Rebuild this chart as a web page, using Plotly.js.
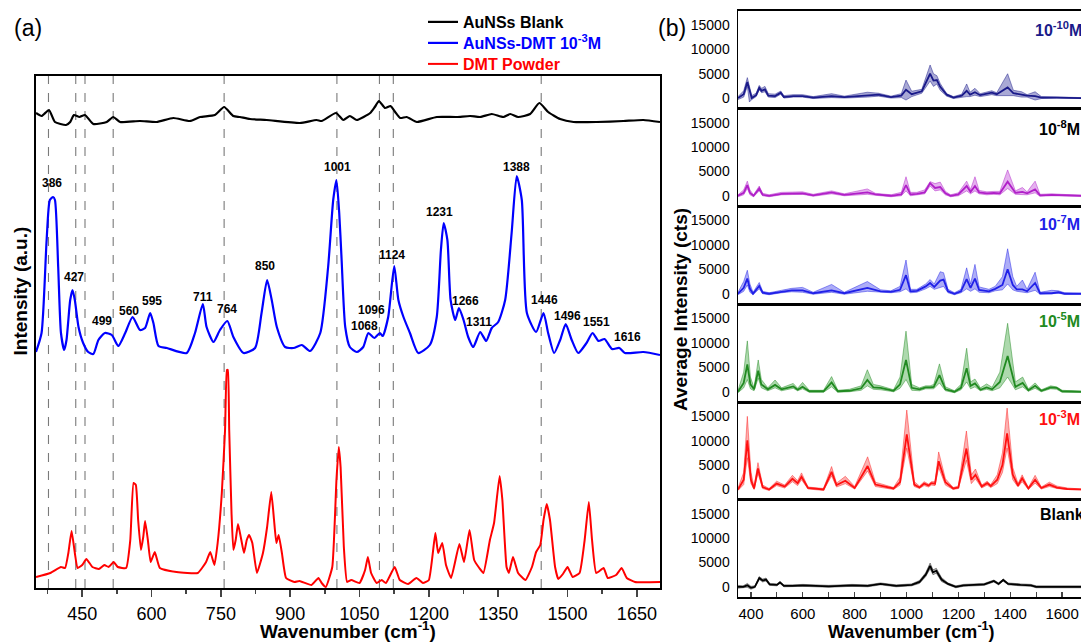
<!DOCTYPE html>
<html><head><meta charset="utf-8">
<script src="https://cdn.plot.ly/plotly-3.0.1.min.js"></script>
<style>html,body{margin:0;padding:0;background:#fff}#chart{width:1081px;height:643px}</style>
</head><body><div id="chart"></div>
<script>
// ---------- Panel (a) data (arbitrary units, stacked as in the figure) ----------
const blankA_w = [350,362,378,391,415,424,432,444,456,474,503,517,532,575,611,647,683,705,737,757,777,791,813,849,921,957,968,999,1015,1029,1044,1073,1083,1092,1105,1117,1127,1138,1152,1174,1217,1260,1289,1311,1336,1361,1376,1393,1419,1439,1458,1484,1513,1563,1621,1664,1700];
const blankA_i = [475,472,478,466,463,466,473,471,473,464,466,471,466,467,466,470,467,471,473,481,472,471,469,468,465,468,467,475,468,472,468,475,481,487,480,482,476,470,471,466,471,471,472,471,474,471,474,471,474,485,476,469,466,466,467,468,466];

const dmtA_w = [350,362,373,380,387,391,398,404,411,416,424,429,434,442,452,463,474,485,499,514,528,543,559,575,586,597,604,615,633,676,694,711,719,734,748,764,777,799,824,838,850,860,871,889,907,925,943,965,982,993,1000,1006,1011,1019,1029,1044,1058,1069,1082,1094,1100,1112,1125,1134,1145,1159,1177,1202,1217,1226,1232,1240,1247,1257,1265,1275,1285,1296,1311,1324,1336,1350,1365,1379,1390,1401,1412,1432,1448,1458,1471,1484,1496,1509,1523,1541,1554,1567,1580,1596,1612,1624,1664,1700];
const dmtA_i = [236,255,348,388,391,388,321,255,238,248,288,298,288,261,245,236,234,248,255,253,242,255,271,258,260,275,265,242,240,235,255,284,261,246,258,267,251,235,240,275,308,288,261,241,240,243,237,255,321,388,408,375,330,261,241,236,241,255,250,255,252,271,322,288,271,255,235,243,271,338,365,348,288,268,280,268,251,241,256,247,260,266,288,355,412,388,275,256,275,255,235,248,264,248,235,245,255,247,249,239,240,235,236,233];

const powA_w = [350,381,404,413,420,427,434,440,450,459,472,486,498,507,518,527,545,554,561,566,571,577,582,586,592,598,607,618,654,700,718,727,736,743,752,759,763,765,768,773,777,782,787,793,800,806,811,818,828,841,850,859,865,870,875,882,891,909,920,946,961,968,977,991,1000,1005,1009,1016,1023,1032,1050,1062,1068,1075,1087,1098,1107,1126,1137,1155,1173,1187,1200,1214,1220,1229,1237,1248,1266,1276,1288,1298,1309,1318,1332,1341,1353,1359,1368,1373,1382,1393,1409,1423,1432,1441,1448,1455,1462,1473,1480,1490,1500,1511,1526,1537,1546,1553,1562,1578,1587,1605,1617,1628,1646,1700];
const powA_i = [11,15,21,20,35,57,35,20,23,29,21,19,23,21,26,21,20,48,105,103,68,38,51,67,48,26,36,20,16,15,26,36,23,45,95,158,218,218,158,75,38,48,64,51,35,48,53,45,15,35,61,96,68,45,53,35,10,6,7,3,10,5,1,21,108,141,121,41,6,8,5,18,31,15,5,8,5,21,8,4,10,5,8,55,35,45,23,10,44,26,58,28,20,15,48,65,112,88,21,15,31,15,8,21,36,43,68,84,68,21,9,14,21,11,15,48,86,48,15,20,10,13,20,10,6,6];

const peakText = ['386','427','499','560','595','711','764','850','1001','1068','1096','1124','1231','1266','1311','1388','1446','1496','1551','1616'];
const peakLabelW = [384,432,493,551,602,711,763,846,1003,1060,1076,1121,1224,1280,1309,1390,1450,1500,1563,1630];
const peakLabelI = [405,311,267,277,287,291,279,322,421,262,278,333,376,287,266,421,288,272,266,251];

const dashW = [377,436,456,517,757,1001,1093,1123,1443];

const xTicksA = [450,600,750,900,1050,1200,1350,1500,1650];

// ---------- Panel (b) data (average intensity, cts) ----------
const m10_x = [350,372,386,394,403,420,432,441,454,467,493,515,527,563,599,640,711,760,849,892,940,980,998,1020,1059,1091,1104,1117,1130,1155,1181,1213,1232,1245,1264,1284,1329,1348,1390,1412,1444,1465,1496,1520,1580,1673];
const m10_mean = [0,800,3300,1500,0,600,2100,1500,1800,500,400,1100,200,400,400,100,400,200,600,700,200,500,1700,800,1400,5000,3600,3700,2300,700,100,500,1500,700,1200,600,1100,800,2200,1000,700,500,400,100,100,0];
const m10_up = [300,1500,4200,2500,500,1000,2600,2000,2400,900,800,1440,500,700,700,300,900,400,1200,1000,400,900,3700,1400,1800,6800,5000,4600,3000,900,300,800,2900,1200,2000,900,1500,1100,5000,1600,1300,700,1300,300,200,100];
const m10_lo = [-300,200,2400,-800,-300,300,1700,1100,1300,200,100,800,0,200,200,-100,100,0,200,400,0,100,-400,300,1000,3500,2400,2900,1600,400,-100,200,300,300,600,300,700,500,500,500,200,200,-400,-100,0,-100];

const m8_x = [350,372,386,396,410,432,445,470,518,557,599,640,711,760,849,880,940,980,998,1015,1040,1070,1091,1110,1130,1150,1170,1200,1232,1247,1264,1280,1310,1337,1360,1390,1420,1447,1465,1496,1515,1560,1673];
const m8_mean = [0,600,2200,600,0,1500,200,0,400,500,500,100,700,200,700,300,0,300,2200,300,400,700,2600,1600,1800,500,0,300,2000,800,2000,700,500,600,500,2900,600,800,500,1300,100,200,0];
const m8_up = [200,1200,3000,1200,200,2000,500,200,700,800,800,300,1000,400,1400,500,200,700,3900,700,700,1200,2900,2500,2800,900,200,600,3000,1300,3900,1100,800,900,900,5300,1000,1700,800,3000,300,400,100];
const m8_lo = [-200,200,1500,200,-200,1000,0,-200,200,200,300,-100,400,0,300,100,-200,0,1000,0,200,400,2000,1000,1200,200,-200,0,1000,400,1000,400,200,300,200,1500,300,300,200,600,-100,0,-100];

const m7_x = [350,372,386,396,408,432,445,470,518,557,599,640,711,760,849,900,940,975,998,1015,1040,1074,1091,1107,1130,1143,1160,1185,1210,1232,1247,1264,1280,1318,1342,1370,1390,1410,1425,1447,1465,1496,1515,1560,1586,1610,1673];
const m7_mean = [0,1200,3100,1000,0,1600,200,0,400,700,700,100,700,100,1200,500,400,800,3800,500,600,1500,2200,1400,2700,2900,500,0,500,3000,1200,3100,800,500,1000,1800,5000,1800,900,900,500,2200,100,100,300,0,0];
const m7_up = [300,2500,4800,2000,300,2300,500,200,700,1100,1300,300,1900,300,2500,800,600,1500,6900,900,900,2000,2900,2000,4500,4300,900,200,900,5300,2000,6000,1400,900,1500,3500,9200,3500,1500,2800,900,4400,300,700,600,200,100];
const m7_lo = [-200,500,1800,300,-200,1000,0,-200,200,400,300,-100,300,-100,500,300,200,400,1000,200,300,1000,1500,900,1200,1500,200,-200,200,1000,500,1000,300,200,600,800,2000,800,500,300,200,700,-100,0,100,-100,-100];

const m5_x = [350,372,386,398,412,428,440,465,493,518,563,580,599,625,680,711,735,780,825,849,872,900,950,975,998,1020,1050,1074,1091,1105,1127,1150,1185,1210,1232,1247,1264,1285,1309,1330,1360,1390,1420,1448,1470,1496,1520,1556,1579,1600,1673];
const m5_mean = [0,1800,5600,1500,500,4300,1500,500,1400,500,1100,400,1000,100,100,1900,100,200,700,2400,900,800,200,1500,6500,800,500,900,900,1000,3400,500,0,800,4800,1200,1700,400,900,500,2000,7300,1000,1800,300,1200,200,900,800,100,0];
const m5_up = [300,4000,10400,3000,800,6500,2500,800,2400,800,1700,700,1900,300,300,3100,300,500,1200,4500,1500,1200,400,3000,12400,1500,800,1200,1200,1500,5700,1000,200,1500,8900,2000,2600,800,1600,900,4000,14000,2000,3000,600,1800,400,1200,1000,300,100];
const m5_lo = [-200,800,2500,600,200,2800,800,200,800,200,700,200,600,-100,-100,1000,-100,0,300,1200,500,400,0,700,2500,300,200,600,600,600,1800,200,-200,400,2000,600,1000,200,500,200,800,3000,400,1000,100,700,0,600,500,-100,-100];

const m3_x = [350,372,386,400,412,427,445,470,499,530,560,580,595,620,680,711,730,764,800,850,880,920,950,975,1001,1030,1050,1068,1085,1096,1110,1124,1150,1180,1200,1231,1250,1266,1290,1311,1325,1350,1370,1388,1410,1430,1446,1470,1496,1520,1551,1580,1620,1673];
const m3_mean = [0,2000,10100,2000,200,4300,500,0,1200,600,2200,1300,2600,300,0,3600,900,1800,300,4800,1000,600,200,1500,11300,1000,400,1200,800,1300,1200,5800,1500,200,400,8400,2000,3000,600,1300,700,2000,5000,11500,3000,800,2300,200,2000,300,1000,400,100,0];
const m3_up = [300,3500,15000,3500,500,5500,900,200,1700,900,2900,1800,3400,500,200,4700,1300,2700,600,6700,1500,900,400,2500,16300,1600,700,1600,1100,1600,1600,7700,2200,400,700,12000,3000,4200,900,1700,1000,3000,7500,16700,4500,1200,3000,400,2900,500,1500,700,300,100];
const m3_lo = [-200,1000,6500,1200,0,3300,200,-200,800,300,1600,800,2000,100,-200,2800,500,1200,100,3800,600,300,0,900,8500,600,200,800,500,900,800,4500,900,0,200,6000,1200,2200,300,900,400,1200,3500,8500,2000,500,1600,0,1300,100,600,200,0,-100];

const bl_x = [350,370,386,400,415,432,445,458,472,500,512,527,560,600,700,790,850,900,960,1020,1050,1074,1091,1102,1115,1135,1160,1190,1220,1260,1300,1337,1355,1373,1392,1440,1480,1500,1673];
const bl_mean = [0,0,300,-200,0,1800,1300,1500,500,400,900,200,200,300,100,300,200,600,200,400,1000,2500,4300,3000,3300,1500,600,0,300,400,500,1200,600,1400,600,400,300,0,0];
const bl_up = [300,200,700,100,200,2100,1600,1800,700,600,1100,400,400,500,300,500,400,800,400,600,1300,2900,4900,3500,3800,1900,800,200,500,600,700,1400,800,1600,800,600,500,200,200];
const bl_lo = [-300,-200,-100,-500,-200,1500,1000,1200,300,200,700,0,0,100,-100,100,0,400,0,200,700,2100,3700,2500,2800,1100,400,-200,100,200,300,1000,400,1200,400,200,100,-200,-200];

const concLabels = ['10<sup>-10</sup>M','10<sup>-8</sup>M','10<sup>-7</sup>M','10<sup>-5</sup>M','10<sup>-3</sup>M','Blank'];
const yTicksB = [0,5000,10000,15000];

// ---------- Build ----------
const FONT = 'Liberation Sans, Arial, Helvetica, sans-serif';
const W = 1081, H = 643;
const px = v => v / W, py = v => 1 - v / H;

const traces = [];
traces.push({x: blankA_w, y: blankA_i, type:'scatter', mode:'lines', name:'<b>AuNSs Blank</b>', legend:'legend',
  line:{color:'#000000', width:2.2, shape:'spline', smoothing:0.5}, xaxis:'x', yaxis:'y', hoverinfo:'skip'});
traces.push({x: dmtA_w, y: dmtA_i, type:'scatter', mode:'lines', name:'<b><span style="color:#0000ff">AuNSs-DMT 10<sup>-3</sup>M</span></b>', legend:'legend2',
  line:{color:'#0000ff', width:2.2, shape:'spline', smoothing:0.6}, xaxis:'x', yaxis:'y', hoverinfo:'skip'});
traces.push({x: powA_w, y: powA_i, type:'scatter', mode:'lines', name:'<b><span style="color:#ff0000">DMT Powder</span></b>', legend:'legend3',
  line:{color:'#ff0000', width:2, shape:'spline', smoothing:0.4}, xaxis:'x', yaxis:'y', hoverinfo:'skip'});

const seriesB = [
  {x:m10_x, m:m10_mean, u:m10_up, l:m10_lo, line:'#1a1a8a', edge:'rgba(26,26,138,0.6)', fill:'rgba(40,40,150,0.40)', lab:'#1a1a8a', lx:1033, ly:29},
  {x:m8_x, m:m8_mean, u:m8_up, l:m8_lo, line:'#b020c8', edge:'rgba(176,32,200,0.6)', fill:'rgba(190,60,215,0.40)', lab:'#000000', lx:1037, ly:127.7},
  {x:m7_x, m:m7_mean, u:m7_up, l:m7_lo, line:'#2020e8', edge:'rgba(32,32,232,0.6)', fill:'rgba(50,50,235,0.40)', lab:'#2020e8', lx:1037, ly:223},
  {x:m5_x, m:m5_mean, u:m5_up, l:m5_lo, line:'#218a21', edge:'rgba(33,138,33,0.6)', fill:'rgba(50,160,50,0.40)', lab:'#218a21', lx:1037, ly:320},
  {x:m3_x, m:m3_mean, u:m3_up, l:m3_lo, line:'#ff1010', edge:'rgba(255,30,30,0.6)', fill:'rgba(245,60,60,0.40)', lab:'#ff1010', lx:1037, ly:418},
  {x:bl_x, m:bl_mean, u:bl_up, l:bl_lo, line:'#000000', edge:'rgba(0,0,0,0.5)', fill:'rgba(80,80,80,0.40)', lab:'#000000', lx:1038, ly:514}
];
const borders = [10.7, 108.3, 206, 304, 402, 499.7, 597];

const legBase = {x: px(423), xanchor:'left', yanchor:'top', bgcolor:'rgba(0,0,0,0)',
  font:{size:16, family:FONT, color:'#000'}, itemwidth:30, traceorder:'normal'};

const layout = {
  width: W, height: H, margin:{l:0,r:0,t:0,b:0}, autosize:false,
  paper_bgcolor:'#ffffff', plot_bgcolor:'rgba(0,0,0,0)',
  font:{family: FONT, color:'#000'},
  showlegend:true,
  legend: Object.assign({}, legBase, {y: py(5)}),
  legend2: Object.assign({}, legBase, {y: py(26)}),
  legend3: Object.assign({}, legBase, {y: py(47)}),
  xaxis:{domain:[px(36), px(660)], range:[350,1700], anchor:'y', showline:true, mirror:true,
    linecolor:'#000', linewidth:2, ticks:'outside', tickvals: xTicksA, ticklen:7, tickwidth:1.5,
    minor:{tick0:375, dtick:150, ticks:'outside', ticklen:4, tickwidth:1.5},
    tickfont:{size:18, family:FONT}, showgrid:false, zeroline:false, ticklabelstandoff:1},
  yaxis:{domain:[py(588), py(76)], range:[0,512], anchor:'x', showline:true, mirror:true,
    linecolor:'#000', linewidth:2, ticks:'', showticklabels:false, showgrid:false, zeroline:false},
  shapes:[], annotations:[]
};

dashW.forEach(w => layout.shapes.push({type:'line', xref:'x', yref:'y domain', x0:w, x1:w, y0:0, y1:1,
  line:{color:'#7a7a7a', width:1.1, dash:'dash'}, layer:'below'}));

peakText.forEach((t,i) => layout.annotations.push({xref:'x', yref:'y', x: peakLabelW[i], y: peakLabelI[i],
  xanchor:'center', yanchor:'middle',
  text:'<b>'+t+'</b>', showarrow:false, font:{size:12, family:FONT, color:'#000'}}));

seriesB.forEach((s, i) => {
  const k = i + 2, xa = 'x'+k, ya = 'y'+k;
  traces.push({x:s.x, y:s.l, type:'scatter', mode:'lines', line:{color:s.edge, width:0.8},
    xaxis:xa, yaxis:ya, showlegend:false, hoverinfo:'skip'});
  traces.push({x:s.x, y:s.u, type:'scatter', mode:'lines', line:{color:s.edge, width:0.8},
    fill:'tonexty', fillcolor:s.fill, xaxis:xa, yaxis:ya, showlegend:false, hoverinfo:'skip'});
  traces.push({x:s.x, y:s.m, type:'scatter', mode:'lines', line:{color:s.line, width:1.8},
    xaxis:xa, yaxis:ya, showlegend:false, hoverinfo:'skip'});
  const last = (i === seriesB.length - 1);
  layout['xaxis'+k] = {domain:[px(738), 1], range:[350,1673], anchor:ya, showline:true, mirror:true,
    linecolor:'#000', linewidth:1.5, showgrid:false, zeroline:false,
    showticklabels:last, ticks: last ? 'inside' : '', tick0:0, dtick:200, ticklen:5, tickwidth:1.2,
    minor: last ? {dtick:100, ticks:'inside', ticklen:5, tickwidth:1.2} : {ticks:''},
    tickfont:{size:15, family:FONT}, ticklabelstandoff:2};
  layout['yaxis'+k] = {domain:[py(borders[i+1]), py(borders[i])], range:[-2100,17950], anchor:xa,
    showline:true, mirror:true, linecolor:'#000', linewidth:1.5, showgrid:false, zeroline:false,
    tickvals:yTicksB, tickformat:'d', ticks:'', tickfont:{size:14, family:FONT}, ticklabelstandoff:4};
  layout.annotations.push({xref:'paper', yref:'paper', x:px(s.lx), y:py(s.ly), xanchor:'left', yanchor:'middle',
    text:'<b>'+concLabels[i]+'</b>', showarrow:false, font:{size:16, family:FONT, color:s.lab}});
});

const C = {xanchor:'center', yanchor:'middle', showarrow:false, xref:'paper', yref:'paper'};
layout.annotations.push(
  Object.assign({x:px(28), y:py(28), text:'(a)', font:{size:23, family:FONT}}, C),
  Object.assign({x:px(672), y:py(28), text:'(b)', font:{size:23, family:FONT}}, C),
  Object.assign({x:px(348), y:py(630), text:'<b>Wavenumber (cm<sup>-1</sup>)</b>', font:{size:19, family:FONT}}, C),
  Object.assign({x:px(911), y:py(630), text:'<b>Wavenumber (cm<sup>-1</sup>)</b>', font:{size:18, family:FONT}}, C),
  Object.assign({x:px(19.5), y:py(291), text:'<b>Intensity (a.u.)</b>', textangle:-90, font:{size:19, family:FONT}}, C),
  Object.assign({x:px(680), y:py(310), text:'<b>Average Intensity (cts)</b>', textangle:-90, font:{size:19, family:FONT}}, C)
);

Plotly.newPlot('chart', traces, layout, {staticPlot:true, displayModeBar:false});
</script></body></html>
